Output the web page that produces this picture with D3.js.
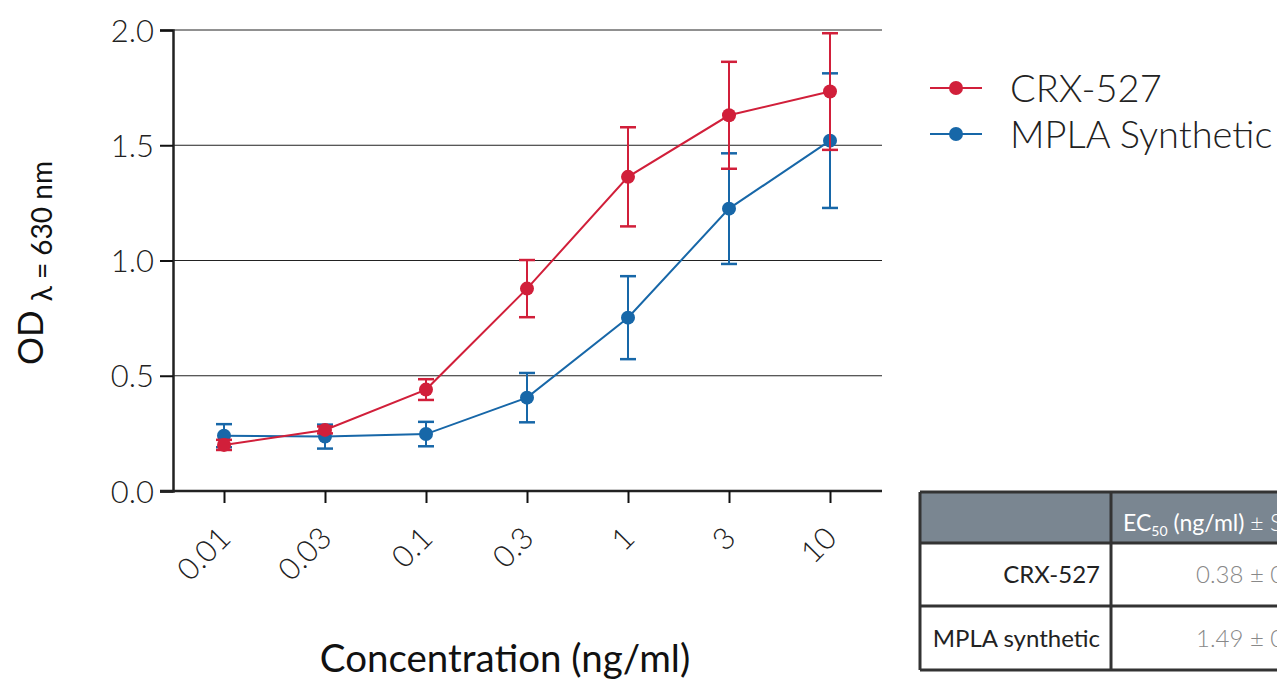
<!DOCTYPE html>
<meta charset="utf-8">
<style>
    body { margin: 0; background: #fff; }
    svg, svg text { font-family: Lato, sans-serif; }
    .light { font-weight: 300; }
</style>
<body>
<script src="https://d3js.org/d3.v7.min.js"></script>
<script>

    var concentrations = ["0.01", "0.03", "0.1", "0.3", "1", "3", "10"];
    var crxMean = [0.20, 0.265, 0.44, 0.878, 1.363, 1.630, 1.733];
    var crxErr  = [0.022, 0.015, 0.045, 0.124, 0.215, 0.232, 0.253];
    var mplaMean = [0.240, 0.236, 0.247, 0.405, 0.752, 1.225, 1.520];
    var mplaErr  = [0.050, 0.052, 0.053, 0.107, 0.180, 0.240, 0.292];
    var yTicks = [0, 0.5, 1.0, 1.5, 2.0];
    var seriesNames = ["CRX-527", "MPLA Synthetic"];
    var seriesColors = ["#d11f3a", "#1767a8"];
    var tableRows = ["CRX-527", "MPLA synthetic"];
    var tableValues = ["0.38 \u00b1 0.06", "1.49 \u00b1 0.21"];

    var width = 1277, height = 679;
    var svg = d3.select("body").append("svg")
        .attr("width", width)
        .attr("height", height);

    var x = d3.scalePoint().domain(concentrations).range([224, 830]);
    var y = d3.scaleLinear().domain([0, 2]).range([491, 30]);

    // gridlines
    svg.append("g").selectAll("line")
        .data(yTicks.slice(1))
        .enter().append("line")
        .attr("x1", 173).attr("x2", 882)
        .attr("y1", function(d) { return y(d); })
        .attr("y2", function(d) { return y(d); })
        .attr("stroke", "#222").attr("stroke-width", 1);

    // y axis
    var yAxis = svg.append("g")
        .attr("transform", "translate(173,0)")
        .call(d3.axisLeft(y).tickValues(yTicks).tickFormat(d3.format(".1f")).tickSize(13).tickPadding(6))
        .attr("font-family", null).attr("font-size", null);
    yAxis.select(".domain").attr("stroke", "#222").attr("stroke-width", 2.5);
    yAxis.selectAll(".tick line").attr("stroke", "#111").attr("stroke-width", 2);
    yAxis.selectAll("text")
        .attr("class", "light")
        .attr("font-size", 31).attr("fill", "#222").attr("dy", "0.36em");

    // x axis
    var xAxis = svg.append("g")
        .attr("transform", "translate(0,491)")
        .call(d3.axisBottom(x).tickSize(12).tickSizeOuter(0))
        .attr("font-family", null).attr("font-size", null);
    xAxis.select(".domain").attr("d", "M160,0H882").attr("stroke", "#222").attr("stroke-width", 2.5);
    xAxis.selectAll(".tick line").attr("stroke", "#111").attr("stroke-width", 2);
    xAxis.selectAll("text")
        .attr("class", "light")
        .attr("font-size", 30.5).attr("fill", "#222")
        .attr("text-anchor", "end")
        .attr("y", 0).attr("dy", 0)
        .attr("transform", "translate(8,49) rotate(-45)");

    // series
    var series = [
        {name: seriesNames[0], color: seriesColors[0], mean: crxMean, err: crxErr},
        {name: seriesNames[1], color: seriesColors[1], mean: mplaMean, err: mplaErr}
    ];
    var line = d3.line()
        .x(function(d, i) { return x(concentrations[i]); })
        .y(function(d) { return y(d); });

    [series[1], series[0]].forEach(function(s) {
        var g = svg.append("g");
        g.append("path").datum(s.mean)
            .attr("d", line).attr("fill", "none")
            .attr("stroke", s.color).attr("stroke-width", 2);
        var eb = g.selectAll(".eb").data(s.mean).enter().append("g");
        eb.append("line")
            .attr("x1", function(d, i) { return x(concentrations[i]); })
            .attr("x2", function(d, i) { return x(concentrations[i]); })
            .attr("y1", function(d, i) { return y(d + s.err[i]); })
            .attr("y2", function(d, i) { return y(d - s.err[i]); })
            .attr("stroke", s.color).attr("stroke-width", 2);
        [1, -1].forEach(function(sign) {
            eb.append("line")
                .attr("x1", function(d, i) { return x(concentrations[i]) - 8; })
                .attr("x2", function(d, i) { return x(concentrations[i]) + 8; })
                .attr("y1", function(d, i) { return y(d + sign * s.err[i]); })
                .attr("y2", function(d, i) { return y(d + sign * s.err[i]); })
                .attr("stroke", s.color).attr("stroke-width", 2.5);
        });
        g.selectAll("circle").data(s.mean).enter().append("circle")
            .attr("cx", function(d, i) { return x(concentrations[i]); })
            .attr("cy", function(d) { return y(d); })
            .attr("r", 7)
            .attr("fill", s.color);
    });

    // axis titles
    svg.append("text")
        .attr("x", 505).attr("y", 672)
        .attr("text-anchor", "middle")
        .attr("font-size", 38.5).attr("fill", "#111")
        .text("Concentration (ng/ml)");

    var yl = svg.append("text")
        .attr("transform", "translate(43,263) rotate(-90)")
        .attr("text-anchor", "middle")
        .attr("fill", "#111");
    yl.append("tspan").attr("font-size", 35).text("OD ");
    yl.append("tspan").attr("font-size", 28).attr("dy", 9).text("\u03bb = 630 nm");

    // legend
    var legend = svg.append("g").selectAll("g")
        .data(series).enter().append("g")
        .attr("transform", function(d, i) { return "translate(930," + (88 + i * 46) + ")"; });
    legend.append("line").attr("x1", 0).attr("x2", 52)
        .attr("stroke", function(d) { return d.color; }).attr("stroke-width", 2);
    legend.append("circle").attr("cx", 26).attr("r", 7)
        .attr("fill", function(d) { return d.color; });
    legend.append("text")
        .attr("class", "light")
        .attr("x", 80).attr("dy", "0.36em")
        .attr("font-size", 38).attr("fill", "#222")
        .text(function(d) { return d.name; });

    // EC50 table
    var table = svg.append("g");
    var rowY = [492, 543, 606, 670];
    var colX = [920, 1111, 1290];
    table.append("rect").attr("x", colX[0]).attr("y", rowY[0])
        .attr("width", colX[2] - colX[0]).attr("height", rowY[1] - rowY[0])
        .attr("fill", "#7a8691");
    rowY.forEach(function(ry) {
        table.append("line").attr("x1", colX[0]).attr("x2", colX[2])
            .attr("y1", ry).attr("y2", ry)
            .attr("stroke", "#333").attr("stroke-width", 3);
    });
    colX.slice(0, 2).forEach(function(cx) {
        table.append("line").attr("x1", cx).attr("x2", cx)
            .attr("y1", rowY[0]).attr("y2", rowY[3])
            .attr("stroke", "#333").attr("stroke-width", 3);
    });
    var head = table.append("text")
        .attr("x", 1123).attr("y", 531)
        .attr("font-size", 23).attr("fill", "#fff");
    head.append("tspan").text("EC");
    head.append("tspan").attr("font-size", 14).attr("dy", 5).text("50");
    head.append("tspan").attr("dy", -5).text(" (ng/ml) ");
    head.append("tspan").attr("class", "light").text("\u00b1 SD");
    tableRows.forEach(function(r, i) {
        var cy = (rowY[i + 1] + rowY[i + 2]) / 2;
        table.append("text").attr("x", 1100).attr("y", cy).attr("dy", "0.36em")
            .attr("text-anchor", "end").attr("font-size", 24).attr("fill", "#222")
            .text(r);
        table.append("text").attr("class", "light")
            .attr("x", 1196).attr("y", cy).attr("dy", "0.36em")
            .attr("font-size", 24).attr("fill", "#888")
            .text(tableValues[i]);
    });

</script>
